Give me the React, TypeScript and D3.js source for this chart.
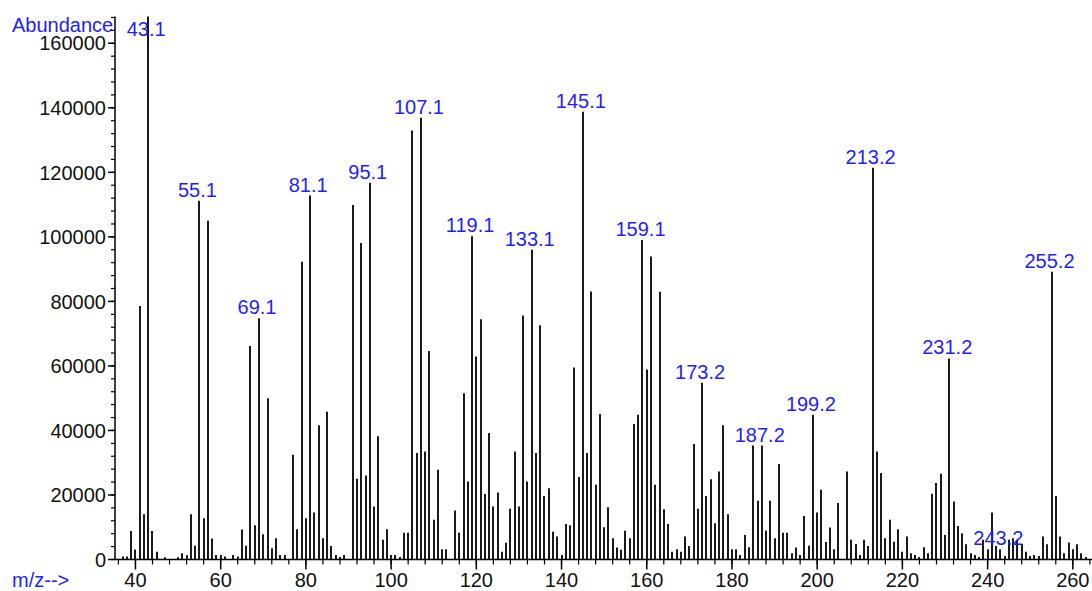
import React from 'react';
import * as d3 from 'd3';

// m/z values and abundances
const mz = [
  37, 38, 39, 40, 41, 42, 43, 44, 45, 47, 50, 51, 52, 53, 54, 55, 56, 57, 58, 59,
  60, 61, 63, 64, 65, 66, 67, 68, 69, 70, 71, 72, 73, 74, 75, 77, 78, 79, 80, 81,
  82, 83, 84, 85, 86, 87, 88, 89, 91, 92, 93, 94, 95, 96, 97, 98, 99, 100, 101, 102,
  103, 104, 105, 106, 107, 108, 109, 110, 111, 112, 113, 115, 116, 117, 118, 119, 120, 121, 122, 123,
  124, 125, 126, 127, 128, 129, 130, 131, 132, 133, 134, 135, 136, 137, 138, 139, 140, 141, 142, 143,
  144, 145, 146, 147, 148, 149, 150, 151, 152, 153, 154, 155, 156, 157, 158, 159, 160, 161, 162, 163,
  164, 165, 166, 167, 168, 169, 170, 171, 172, 173, 174, 175, 176, 177, 178, 179, 180, 181, 182, 183,
  184, 185, 186, 187, 188, 189, 190, 191, 192, 193, 194, 195, 196, 197, 198, 199, 200, 201, 202, 203,
  204, 205, 207, 208, 209, 210, 211, 212, 213, 214, 215, 216, 217, 218, 219, 220, 221, 222, 223, 224,
  225, 226, 227, 228, 229, 230, 231, 232, 233, 234, 235, 236, 237, 238, 239, 240, 241, 242, 243, 244,
  245, 246, 247, 248, 249, 250, 251, 252, 253, 254, 255, 256, 257, 258, 259, 260, 261, 262, 263,
];

const abundance = [
  900, 900, 8800, 3100, 78600, 14000, 170000, 8800, 2400, 700, 700, 1900, 1300, 14000, 4300, 111200, 12800, 105000, 6500, 1400,
  1400, 900, 1400, 900, 9300, 4300, 66200, 10600, 74800, 7800, 50000, 3500, 6600, 1400, 1400, 32500, 9400, 92300, 12800, 112800,
  14600, 41600, 6600, 45800, 4200, 1400, 800, 1400, 109900, 25000, 98100, 26000, 116800, 16400, 38200, 6100, 9400, 1400, 1400, 800,
  8300, 8300, 133000, 33000, 136900, 33500, 64600, 12300, 27800, 3200, 3200, 15200, 8300, 51500, 24200, 100200, 62900, 74500, 20300, 39200,
  16400, 20800, 2400, 5200, 15700, 33500, 16400, 75600, 24200, 96000, 33000, 72600, 19700, 22100, 8600, 7100, 1400, 11000, 10600, 59500,
  25600, 138800, 33000, 83100, 23200, 45100, 10000, 16200, 6600, 3700, 3000, 8900, 6600, 42000, 44900, 99000, 58900, 93900, 23200, 83000,
  15600, 11000, 2400, 3200, 2400, 7100, 4200, 35800, 15700, 54800, 19700, 24900, 11200, 27300, 41600, 14000, 3200, 3200, 1400, 7600,
  3800, 35300, 18200, 35300, 8900, 18200, 6600, 29600, 8300, 8300, 1900, 3700, 1400, 13500, 4300, 44900, 14600, 21600, 5400, 9900,
  3200, 17500, 27300, 6100, 4800, 1400, 6100, 4200, 121400, 33500, 26800, 6600, 12300, 5500, 9400, 2400, 7100, 1900, 1400, 800,
  3800, 1900, 20400, 23700, 26600, 7600, 62300, 18000, 10400, 8100, 4700, 1900, 1400, 800, 6100, 3200, 14600, 4200, 3200, 1100,
  6100, 6600, 6100, 4800, 2400, 1100, 1400, 1100, 7100, 4700, 89200, 19700, 7100, 1900, 5300, 3200, 4700, 1900, 800,
];

const peakLabels = [
  '43.1', '55.1', '69.1', '81.1', '95.1', '107.1', '119.1', '133.1', '145.1',
  '159.1', '173.2', '187.2', '199.2', '213.2', '231.2', '243.2', '255.2',
];

const xTickLabels = [40, 60, 80, 100, 120, 140, 160, 180, 200, 220, 240, 260];
const yTickLabels = [0, 20000, 40000, 60000, 80000, 100000, 120000, 140000, 160000];

const W = 1092;
const H = 591;
const BLUE = '#1e1eff';
const FONT = '"Liberation Sans", Arial, sans-serif';
const FS = 20;

export default function App() {
  const x = d3.scaleLinear().domain([35.2, 264.5]).range([115, 1092]);
  const y = d3.scaleLinear().domain([0, 168300]).range([559.5, 16.5]);
  const y0 = y(0);
  const yTop = y.range()[1];

  const minorX = d3.range(36, 265, 4);
  const minorY = d3.range(0, 168001, 4000);

  const valueAt = (m: number) => abundance[mz.indexOf(m)];

  return (
    <svg
      width={W}
      height={H}
      style={{ position: 'absolute', left: 0, top: 0, background: '#fff' }}
      fontFamily={FONT}
    >
      <rect width={W} height={H} fill="#fff" />

      {/* bars */}
      {mz.map((m, i) => {
        const px = Math.round(x(m));
        return (
          <line
            key={m}
            x1={px}
            x2={px}
            y1={y0}
            y2={Math.max(y(abundance[i]), yTop)}
            stroke="#000"
            strokeWidth={1.8}
          />
        );
      })}

      {/* y axis */}
      <line x1={115} x2={115} y1={yTop} y2={y0} stroke="#000" strokeWidth={1.5} />
      {minorY.map((v) => (
        <line key={v} x1={111} x2={115} y1={y(v)} y2={y(v)} stroke="#000" strokeWidth={1.2} />
      ))}
      {yTickLabels.map((v) => (
        <g key={v}>
          <line x1={108} x2={115} y1={y(v)} y2={y(v)} stroke="#000" strokeWidth={1.5} />
          <text x={106} y={y(v)} dy="0.36em" textAnchor="end" fontSize={FS} fill="#111">
            {v}
          </text>
        </g>
      ))}

      {/* x axis */}
      <line x1={115} x2={W} y1={y0} y2={y0} stroke="#000" strokeWidth={1.5} />
      {minorX.map((m) => (
        <line key={m} x1={x(m)} x2={x(m)} y1={y0} y2={y0 + 5} stroke="#000" strokeWidth={1.2} />
      ))}
      {xTickLabels.map((m) => (
        <g key={m}>
          <line x1={x(m)} x2={x(m)} y1={y0} y2={y0 + 10} stroke="#000" strokeWidth={1.5} />
          <text x={x(m)} y={587} textAnchor="middle" fontSize={FS} fill="#111">
            {m}
          </text>
        </g>
      ))}

      {/* peak labels */}
      {peakLabels.map((lab) => {
        const m = Math.round(parseFloat(lab));
        const top = Math.max(y(valueAt(m)), yTop);
        return (
          <text
            key={lab}
            x={x(m) - 2}
            y={Math.max(top - 4, 36)}
            textAnchor="middle"
            fontSize={FS}
            fill={BLUE}
          >
            {lab}
          </text>
        );
      })}

      <text x={12} y={32} fontSize={FS} fill={BLUE}>
        Abundance
      </text>
      <text x={12} y={587} fontSize={FS} fill={BLUE}>
        m/z--&gt;
      </text>
    </svg>
  );
}
